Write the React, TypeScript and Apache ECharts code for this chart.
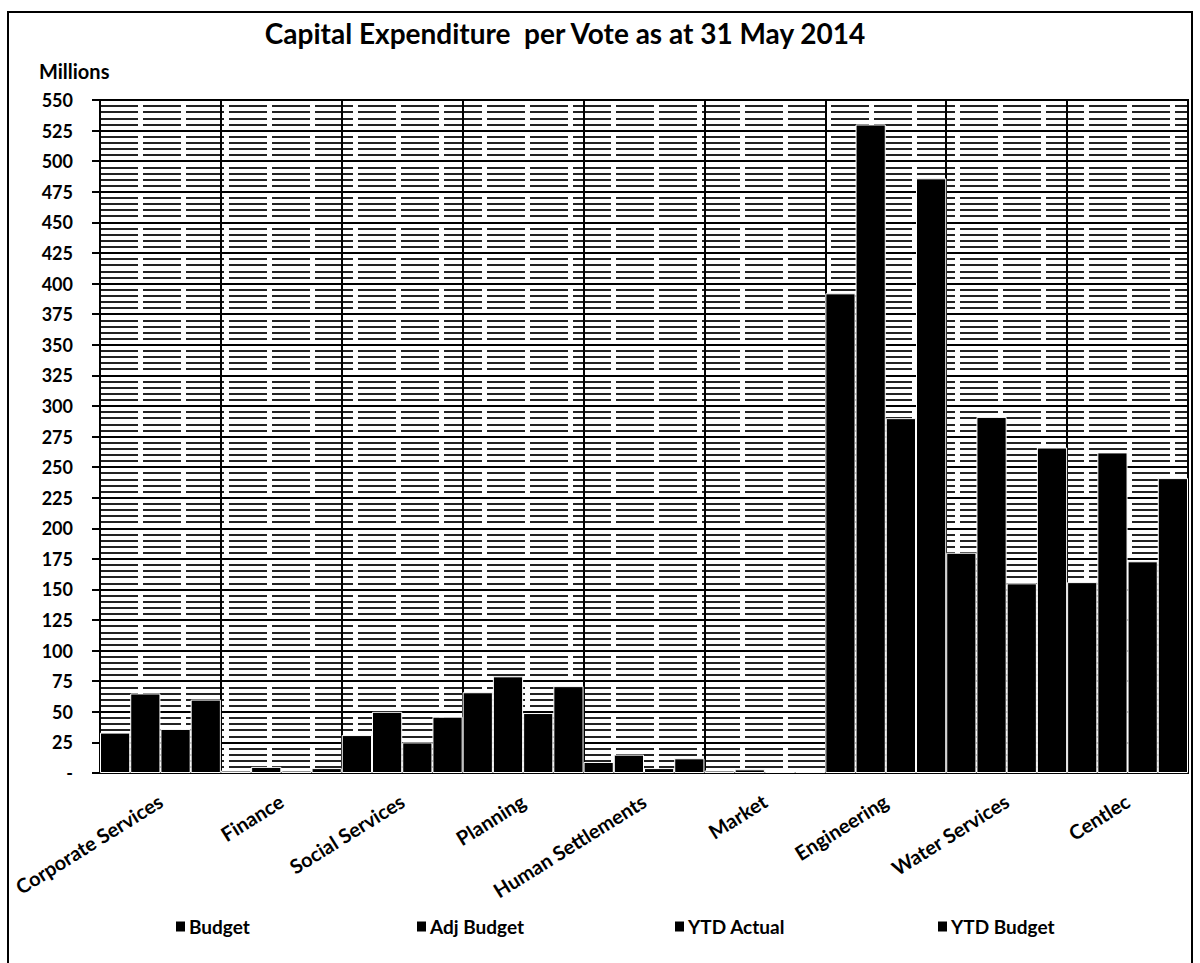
import React, { useEffect, useRef } from "react";
import * as echarts from "echarts";

const categories = [
  "Corporate Services",
  "Finance",
  "Social Services",
  "Planning",
  "Human Settlements",
  "Market",
  "Engineering",
  "Water Services",
  "Centlec",
];
const budget = [33, 2, 31, 66, 9, 2, 392, 180, 156];
const adjBudget = [65, 5, 50, 79, 15, 3, 530, 291, 262];
const ytdActual = [36, 2, 25, 49, 4, 1, 290, 155, 173];
const ytdBudget = [60, 4, 46, 71, 12, 1, 486, 266, 241];
const seriesNames = ["Budget", "Adj Budget", "YTD Actual", "YTD Budget"];
const legendLefts = [169, 410, 668, 931];

const FONT = "Lato";

export default function App() {
  const ref = useRef<HTMLDivElement>(null);
  useEffect(() => {
    if (!ref.current) return;
    const chart = echarts.init(ref.current, null, { renderer: "svg" });
    const values = [budget, adjBudget, ytdActual, ytdBudget];
    chart.setOption({
      animation: false,
      backgroundColor: "#fff",
      title: {
        text: "Capital Expenditure  per Vote as at 31 May 2014",
        left: 560,
        textAlign: "center",
        top: 14,
        textStyle: { fontFamily: FONT, fontWeight: "bold", fontSize: 28, color: "#000" },
      },
      graphic: [
        {
          type: "rect",
          shape: { x: 8, y: 12, width: 1184, height: 960 },
          style: { fill: "none", stroke: "#000", lineWidth: 2 },
          silent: true,
        },
        {
          type: "text",
          left: 39,
          top: 61,
          style: { text: "Millions", fontFamily: FONT, fontWeight: "bold", fontSize: 20, fill: "#000" },
        },
      ],
      legend: seriesNames.map((n, i) => ({
        data: [n],
        left: legendLefts[i],
        top: 912,
        itemWidth: 11,
        itemHeight: 12,
        itemGap: 4,
        icon: "rect",
        textStyle: { fontFamily: FONT, fontWeight: "bold", fontSize: 19, color: "#000", padding: [0, 0, 0, -2] },
      })),
      grid: {
        left: 100,
        right: 12,
        top: 100,
        bottom: 190,
        show: true,
        borderColor: "#000",
        borderWidth: 2,
        backgroundColor: "transparent",
      },
      xAxis: {
        type: "category",
        data: categories,
        axisLine: { lineStyle: { color: "#000", width: 2 } },
        axisTick: { show: false },
        splitLine: { show: true, lineStyle: { color: "#000", width: 2 } },
        axisLabel: {
          rotate: 32,
          interval: 0,
          margin: 26,
          fontFamily: FONT,
          fontWeight: "bold",
          fontSize: 20,
          color: "#000",
        },
      },
      yAxis: {
        type: "value",
        min: 0,
        max: 550,
        interval: 25,
        axisLine: { show: true, lineStyle: { color: "#000", width: 2 } },
        axisTick: { show: true, length: 8, lineStyle: { color: "#000", width: 2 } },
        splitLine: { show: true, lineStyle: { color: "#000", width: 2 } },
        minorTick: { show: false, splitNumber: 5 },
        minorSplitLine: { show: true, lineStyle: { color: "#222", width: 2, type: [38, 5] } },
        axisLabel: {
          margin: 27,
          fontFamily: FONT,
          fontWeight: "bold",
          fontSize: 18,
          color: "#000",
          formatter: (v: number) => (v === 0 ? "-" : String(v)),
        },
      },
      series: seriesNames.map((n, i) => ({
        name: n,
        type: "bar",
        data: values[i],
        barGap: "0%",
        barCategoryGap: "0%",
        itemStyle: { color: "#000", borderColor: "#fff", borderWidth: 1 },
      })),
    });
    return () => chart.dispose();
  }, []);
  return (
    <div
      ref={ref}
      style={{ position: "absolute", left: 0, top: 0, width: 1200, height: 963 }}
    />
  );
}
